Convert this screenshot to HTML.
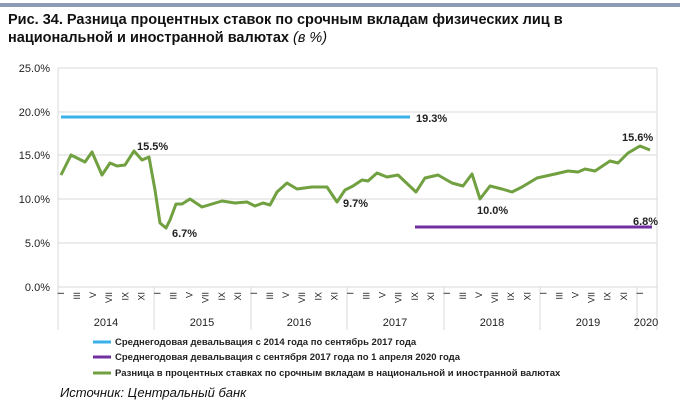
<!DOCTYPE html><html><head><meta charset="utf-8"><style>body{margin:0;background:#fff;}svg{display:block;font-family:"Liberation Sans",sans-serif;}</style></head><body>
<svg width="680" height="412" xmlns="http://www.w3.org/2000/svg">
<rect x="0" y="3" width="680" height="4" fill="#8c9bb5"/>
<text x="8" y="24" font-size="14.5" font-weight="bold" fill="#111">Рис. 34. Разница процентных ставок по срочным вкладам физических лиц в</text>
<text x="8" y="42" font-size="14.5" font-weight="bold" fill="#111">национальной и иностранной валютах <tspan font-style="italic" font-weight="normal">(в %)</tspan></text>
<g stroke="#d9d9d9" stroke-width="1">
<line x1="58" x2="657" y1="68" y2="68"/><line x1="58" x2="657" y1="112" y2="112"/><line x1="58" x2="657" y1="155" y2="155"/><line x1="58" x2="657" y1="199" y2="199"/><line x1="58" x2="657" y1="243" y2="243"/><line x1="58" x2="657" y1="287" y2="287"/>
<line x1="58" x2="58" y1="68" y2="330"/><line x1="657" x2="657" y1="68" y2="330"/>
<line x1="154" x2="154" y1="287" y2="330"/><line x1="251" x2="251" y1="287" y2="330"/><line x1="347" x2="347" y1="287" y2="330"/><line x1="444" x2="444" y1="287" y2="330"/><line x1="540" x2="540" y1="287" y2="330"/><line x1="637" x2="637" y1="287" y2="330"/>
</g>
<g font-size="11" fill="#222" text-anchor="end">
<text x="50" y="72">25.0%</text><text x="50" y="116">20.0%</text><text x="50" y="159">15.0%</text><text x="50" y="203">10.0%</text><text x="50" y="247">5.0%</text><text x="50" y="291">0.0%</text>
</g>
<g font-size="9" fill="#222" id="m"></g>
<g font-size="11" fill="#222" text-anchor="middle">
<text x="106" y="326">2014</text><text x="202" y="326">2015</text><text x="299" y="326">2016</text><text x="395" y="326">2017</text><text x="492" y="326">2018</text><text x="588" y="326">2019</text><text x="646" y="326">2020</text>
</g>
<line x1="61" x2="410" y1="117" y2="117" stroke="#3cb0e8" stroke-width="3"/>
<line x1="415" x2="652" y1="227" y2="227" stroke="#7030a0" stroke-width="3"/>
<polyline fill="none" stroke="#70a040" stroke-width="3" stroke-linejoin="round" points="61,175 71,155 85,162 92,152 102,175 110,163 117,166 125,165 134,151 142,160 149,157 155,190 160,223 166,228 170,220 176,204 182,204 190,199 202,207 222,201 235,203 247,202 255,206 263,203 270,205 277,192 287,183 297,189 312,187 327,187 337,202 345,190 353,186 362,180 368,181 377,173 387,177 398,175 416,192 425,178 438,175 452,183 463,186 472,174 480,199 490,186 502,189 512,192 522,187 537,178 555,174 568,171 578,172 585,169 595,171 610,161 618,163 628,153 640,146 650,150"/>
<g font-size="11" font-weight="bold" fill="#222">
<text x="416" y="122">19.3%</text><text x="137" y="150">15.5%</text><text x="172" y="237">6.7%</text><text x="343" y="207">9.7%</text><text x="477" y="214">10.0%</text><text x="622" y="141">15.6%</text><text x="633" y="225">6.8%</text>
</g>
<g stroke-width="3"><line x1="93" x2="111" y1="342" y2="342" stroke="#3cb0e8"/><line x1="93" x2="111" y1="357" y2="357" stroke="#7030a0"/><line x1="93" x2="111" y1="373" y2="373" stroke="#70a040"/></g>
<g font-size="9.5" font-weight="bold" fill="#222">
<text x="115" y="345">Среднегодовая девальвация с 2014 года по сентябрь 2017 года</text>
<text x="115" y="360">Среднегодовая девальвация с сентября 2017 года по 1 апреля 2020 года</text>
<text x="115" y="376">Разница в процентных ставках по срочным вкладам в национальной и иностранной валютах</text>
</g>
<text x="60" y="397" font-size="13" font-style="italic" fill="#111">Источник: Центральный банк</text>
<script>
var g=document.getElementById('m'),L=['I','III','V','VII','IX','XI'];
for(var m=0;m<73;m+=2){var x=61+8.04*m+3,t=document.createElementNS('http://www.w3.org/2000/svg','text');t.setAttribute('transform','translate('+x+',292) rotate(-90)');t.setAttribute('text-anchor','end');t.textContent=L[(m%12)/2];g.appendChild(t);}
</script>
</svg></body></html>
